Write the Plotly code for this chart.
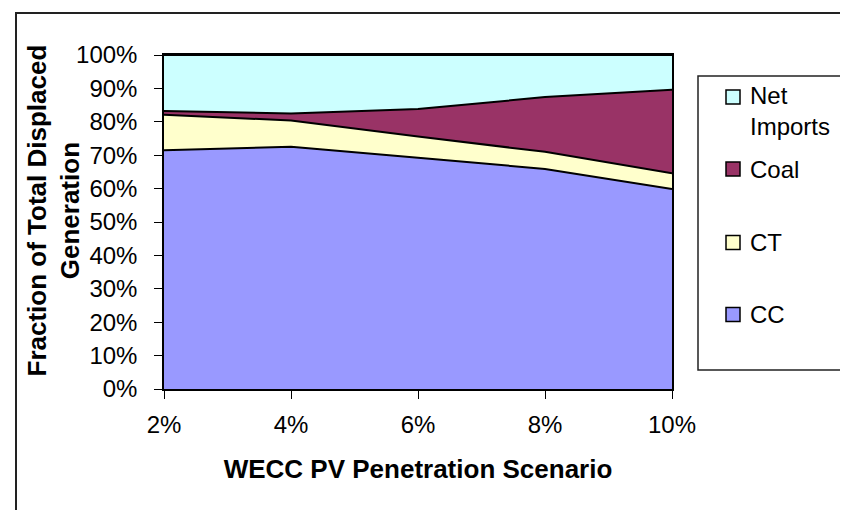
import plotly.graph_objects as go

# ---- data ----
scenarios = [2, 4, 6, 8, 10]            # WECC PV penetration, %
x_tick_labels = ["2%", "4%", "6%", "8%", "10%"]
cc = [71.5, 72.5, 69.2, 65.9, 59.9]
ct = [10.6, 7.9, 6.4, 5.1, 4.7]
coal = [1.1, 2.1, 8.2, 16.4, 25.0]
net_imports = [16.8, 17.5, 16.2, 12.6, 10.4]
series_names = ["CC", "CT", "Coal", "Net Imports"]
legend_labels = ["CC", "CT", "Coal", "Net<br>Imports"]
y_tick_values = [0, 10, 20, 30, 40, 50, 60, 70, 80, 90, 100]
y_tick_labels = ["0%", "10%", "20%", "30%", "40%", "50%", "60%", "70%", "80%", "90%", "100%"]
x_title = "WECC PV Penetration Scenario"
y_title = "Fraction of Total Displaced<br>Generation"

# ---- styling ----
W, H = 848, 510
L, R, T, B = 156, 664, 47, 381   # plot-area pixel box
colors = {"CC": "#9999FF", "CT": "#FFFFCC", "Coal": "#993366", "Net Imports": "#CCFFFF"}
FONT = "Arial, 'Liberation Sans', sans-serif"

def xp(px):
    return (px - L) / (R - L)

def yp(py):
    return (B - py) / (B - T)

fig = go.Figure()
for name, vals in zip(series_names, [cc, ct, coal, net_imports]):
    fig.add_trace(go.Scatter(
        x=scenarios, y=vals, name=name, mode="lines",
        stackgroup="one", fillcolor=colors[name],
        line=dict(color="#000000", width=2),
        showlegend=False,
    ))

fig.update_layout(
    width=W, height=H,
    margin=dict(l=L, r=W - R, t=T, b=H - B, pad=0),
    paper_bgcolor="white", plot_bgcolor="white",
    font=dict(family=FONT, color="black", size=24),
    xaxis=dict(
        range=[2, 10], tickvals=scenarios, ticktext=x_tick_labels,
        ticks="outside", ticklen=8, tickcolor="black", tickwidth=1,
        showline=True, linecolor="black", linewidth=1.5, mirror=True,
        showgrid=False, zeroline=False,
        tickfont=dict(size=24), ticklabelstandoff=5,
        title=dict(text="<b>" + x_title + "</b>",
                   font=dict(size=26), standoff=23),
    ),
    yaxis=dict(
        range=[0, 100], tickvals=y_tick_values, ticktext=y_tick_labels,
        ticks="outside", ticklen=8, tickcolor="black", tickwidth=1,
        showline=True, linecolor="black", linewidth=1.5, mirror=True,
        showgrid=False, zeroline=False,
        tickfont=dict(size=24), ticklabelstandoff=12,
    ),
)

shapes = []
annotations = []
# y-axis title (two centred lines, rotated)
annotations.append(dict(xref="paper", yref="paper", x=xp(45.5), y=yp(203),
                        xanchor="center", yanchor="middle", showarrow=False,
                        textangle=-90, align="center",
                        text="<b>" + y_title + "</b>", font=dict(size=26)))
# outer chart border (left and top edges visible in the crop)
shapes.append(dict(type="rect", xref="paper", yref="paper",
                   x0=xp(8), x1=xp(W + 20), y0=yp(5), y1=yp(H + 20),
                   line=dict(color="#222222", width=2), fillcolor="rgba(0,0,0,0)", layer="below"))
# legend box
shapes.append(dict(type="rect", xref="paper", yref="paper",
                   x0=xp(690), x1=xp(846), y0=yp(68), y1=yp(362),
                   line=dict(color="#222222", width=1.5), fillcolor="white"))

legend_order = ["Net Imports", "Coal", "CT", "CC"]
legend_centers = [89, 161, 234.5, 306.5]
for name, cy in zip(legend_order, legend_centers):
    shapes.append(dict(type="rect", xref="paper", yref="paper",
                       x0=xp(718), x1=xp(732), y0=yp(cy - 7), y1=yp(cy + 7),
                       line=dict(color="#000000", width=1.5), fillcolor=colors[name]))
    label = legend_labels[series_names.index(name)]
    if "<br>" in label:
        annotations.append(dict(xref="paper", yref="paper", x=xp(740), y=yp(cy - 17),
                                xanchor="left", yanchor="top", showarrow=False,
                                text=label, align="left", font=dict(size=24)))
    else:
        annotations.append(dict(xref="paper", yref="paper", x=xp(740), y=yp(cy),
                                xanchor="left", yanchor="middle", showarrow=False,
                                text=label, align="left", font=dict(size=24)))

fig.update_layout(shapes=shapes, annotations=annotations)
fig.write_html("out.html")
